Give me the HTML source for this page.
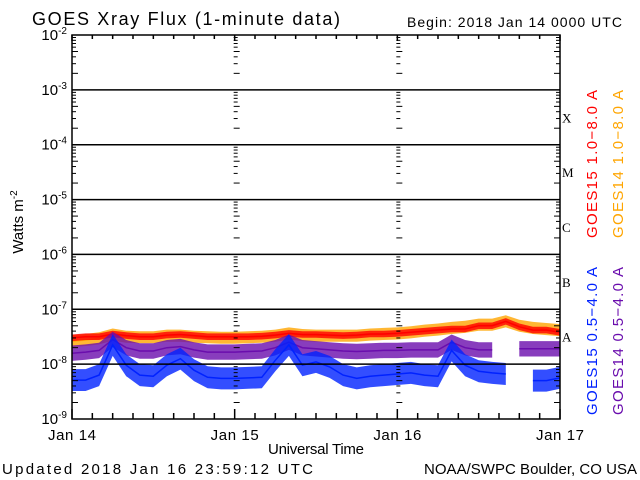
<!DOCTYPE html>
<html><head><meta charset="utf-8"><style>
body{margin:0;background:#fff}
svg{display:block;font-family:"Liberation Sans",sans-serif}
</style></head><body>
<svg id="c" width="640" height="480" viewBox="0 0 640 480">
<text x="32" y="25" font-size="18" textLength="308" lengthAdjust="spacing">GOES Xray Flux (1-minute data)</text>
<text x="407" y="27" font-size="14" textLength="215" lengthAdjust="spacing">Begin:  2018 Jan 14 0000 UTC</text>
<text x="2" y="474" font-size="15" textLength="311" lengthAdjust="spacing">Updated 2018 Jan 16 23:59:12 UTC</text>
<text x="424" y="474" font-size="15" textLength="213" lengthAdjust="spacing">NOAA/SWPC Boulder, CO USA</text>
<text x="268" y="454" font-size="15" textLength="96" lengthAdjust="spacing">Universal Time</text>
<text transform="translate(23,222) rotate(-90)" font-size="15" text-anchor="middle">Watts m<tspan dy="-6" font-size="10">-2</tspan></text>
<text transform="translate(597,238) rotate(-90)" font-size="15" fill="#ff0000" textLength="148" lengthAdjust="spacing">GOES15 1.0−8.0 A</text>
<text transform="translate(623,238) rotate(-90)" font-size="15" fill="#ffa500" textLength="148" lengthAdjust="spacing">GOES14 1.0−8.0 A</text>
<text transform="translate(597,415) rotate(-90)" font-size="15" fill="#0022ff" textLength="148" lengthAdjust="spacing">GOES15 0.5−4.0 A</text>
<text transform="translate(623,415) rotate(-90)" font-size="15" fill="#6a0dad" textLength="148" lengthAdjust="spacing">GOES14 0.5−4.0 A</text>
<g id="plot"></g>
</svg>
<script>
const hours=[0,2,4,6,8,10,12,14,16,18,20,22,24,26,28,30,32,34,36,38,40,42,44,46,48,50,52,54,56,58,60,62,64,66,68,70,72];
const g15long=[-7.52,-7.5,-7.5,-7.45,-7.48,-7.5,-7.5,-7.47,-7.46,-7.48,-7.5,-7.5,-7.5,-7.5,-7.49,-7.47,-7.44,-7.46,-7.46,-7.47,-7.48,-7.47,-7.45,-7.45,-7.44,-7.42,-7.4,-7.38,-7.36,-7.36,-7.3,-7.3,-7.22,-7.32,-7.38,-7.38,-7.42];
const g14long=[-7.58,-7.56,-7.53,-7.46,-7.5,-7.51,-7.51,-7.48,-7.48,-7.5,-7.51,-7.52,-7.52,-7.51,-7.5,-7.48,-7.44,-7.47,-7.48,-7.48,-7.48,-7.48,-7.46,-7.45,-7.44,-7.42,-7.39,-7.37,-7.34,-7.32,-7.28,-7.28,-7.22,-7.3,-7.34,-7.36,-7.38];
const g15short=[-8.29,-8.29,-8.2,-7.65,-8.02,-8.2,-8.22,-8.02,-7.9,-8.11,-8.24,-8.26,-8.26,-8.25,-8.24,-7.93,-7.65,-8.02,-7.96,-8.05,-8.2,-8.26,-8.22,-8.2,-8.18,-8.16,-8.2,-8.22,-7.75,-8.02,-8.13,-8.16,-8.18,null,-8.3,-8.3,-8.25];
const g14short=[-7.8,-7.78,-7.75,-7.55,-7.7,-7.76,-7.76,-7.7,-7.68,-7.74,-7.78,-7.78,-7.78,-7.77,-7.76,-7.7,-7.6,-7.7,-7.72,-7.74,-7.76,-7.77,-7.76,-7.75,-7.75,-7.74,-7.74,-7.74,-7.6,-7.7,-7.74,-7.74,null,-7.72,-7.72,-7.72,-7.72];
const spreads=[0.11,0.06,0.14,0.2];
const yTicks=[-2,-3,-4,-5,-6,-7,-8,-9];
const dayLabels=["Jan 14","Jan 15","Jan 16","Jan 17"];
const classLabels=["X","M","C","B","A"];

const L=72,R=560,T=35,B=419;
const xs=h=>L+(R-L)*h/72;
const ys=v=>T+(B-T)*(-2-v)/7;
const NS="http://www.w3.org/2000/svg";
const plot=document.getElementById('plot');
function mk(tag,attrs,parent){const e=document.createElementNS(NS,tag);for(const k in attrs)e.setAttribute(k,attrs[k]);(parent||plot).appendChild(e);return e;}

const series=[[g14long,'#ffa500','goes14-long',0],[g15long,'#ff0000','goes15-long',1],[g14short,'#6a0dad','goes14-short',2],[g15short,'#0022ff','goes15-short',3]];
series.forEach(([arr,col,name,si])=>{
  const sp=spreads[si];
  let segs=[],cur=[];
  arr.forEach((v,i)=>{if(v===null){if(cur.length)segs.push(cur);cur=[];}else cur.push(i);});
  if(cur.length)segs.push(cur);
  segs.forEach(seg=>{
    let up=seg.map(i=>xs(hours[i]).toFixed(1)+','+ys(arr[i]+sp).toFixed(1));
    let dn=seg.slice().reverse().map(i=>xs(hours[i]).toFixed(1)+','+ys(arr[i]-sp).toFixed(1));
    const band=mk('polygon',{points:up.concat(dn).join(' '),fill:col,'fill-opacity':0.8});
    
    
    const ln=mk('polyline',{points:seg.map(i=>xs(hours[i]).toFixed(1)+','+ys(arr[i]).toFixed(1)).join(' '),fill:'none',stroke:col,'stroke-width':1.5});
    
    
  });
});

yTicks.forEach(v=>{
  if(v>-3||v<-8)return;
  const l=mk('line',{x1:L,x2:R,y1:ys(v),y2:ys(v),stroke:'#000','stroke-width':1.5});
  
  
});
const fr=mk('rect',{x:L,y:T,width:R-L,height:B-T,fill:'none',stroke:'#000','stroke-width':1.5});



const minorX=[L,xs(24),xs(48),R];
for(let d=-3;d>=-9;d--){
  for(let m=2;m<=9;m++){
    const y=ys(d+Math.log10(m));
    minorX.forEach((x,j)=>{
      const len=m===2||m===5?6:4;
      let x1,x2;
      if(j===0){x1=x;x2=x+len;}else if(j===3){x1=x-len;x2=x;}else{x1=x-1;x2=x+len-1;}
      const t=mk('line',{x1,x2,y1:y,y2:y,stroke:'#000','stroke-width':1});
      
      
    });
  }
}
yTicks.forEach(v=>{
  const t=mk('text',{x:67,y:ys(v)+5,'text-anchor':'end','font-size':15});
  t.textContent='10';
  const s=mk('tspan',{dy:-6,'font-size':10},t);s.textContent=String(v);
  
  
});
for(let h=0;h<=72;h+=3){
  const x=xs(h);
  const len=h%24===0?10:6;
  const a=mk('line',{x1:x,x2:x,y1:B,y2:B-len,stroke:'#000','stroke-width':1.5});
  
  
  const b=mk('line',{x1:x,x2:x,y1:T,y2:T+len/2+1,stroke:'#000','stroke-width':1.5});
  
  
}
dayLabels.forEach((d,i)=>{
  const t=mk('text',{x:xs(i*24)-24,y:440,'font-size':15,textLength:48,lengthAdjust:'spacing'});
  t.textContent=d;
  
  
});
classLabels.forEach((c,i)=>{
  const t=mk('text',{x:562,y:ys(-3.5-i)+5,'font-size':13,'font-family':'Liberation Serif, serif'});
  t.textContent=c;
  
  
});
</script>
</body></html>
